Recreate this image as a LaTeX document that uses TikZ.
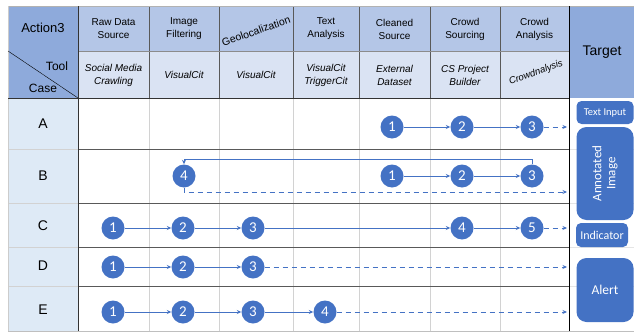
\documentclass[tikz,border=0pt]{standalone}
\usepackage{fontspec}
\setmainfont{Liberation Sans}
\newfontfamily\calib{Carlito}
\usetikzlibrary{arrows.meta, positioning, calc}

\begin{document}
\begin{tikzpicture}[x=1pt,y=-1pt,>={Stealth[length=4.5pt,width=4pt]}]
\useasboundingbox (0,0) rectangle (634,332);

% Colors
\definecolor{headdark}{RGB}{142,170,219}
\definecolor{headmid}{RGB}{180,198,231}
\definecolor{headlight}{RGB}{218,227,243}
\definecolor{casebg}{RGB}{222,234,246}
\definecolor{stepblue}{RGB}{68,114,196}

\tikzset{
  stepnode/.style={circle, fill=stepblue, text=white, minimum size=23pt, inner sep=0pt, font=\calib\fontsize{15}{15}\selectfont},
  flow/.style={stepblue, thick, ->},
  flowdash/.style={stepblue, thick, dashed, dash pattern=on 5pt off 4pt, ->},
  targetbox/.style={rounded corners=5pt, fill=stepblue, text=white, inner sep=0pt, font=\calib\fontsize{10.5}{12}\selectfont},
  acttext/.style={align=center, font=\fontsize{10}{13}\selectfont},
  tooltext/.style={align=center, font=\itshape\fontsize{10}{13}\selectfont},
}

% Backgrounds
\fill[headdark] (8,6) rectangle (78,98);
\fill[headmid] (78,6) rectangle (569,51);
\fill[headlight] (78,51) rectangle (569,98);
\fill[headdark] (569,6) rectangle (634,98);
\fill[casebg] (8,98) rectangle (78,331);

% Grid
\foreach \x in {149,219,293,359,430,500} {
    \draw[gray!35] (\x,98) -- (\x,331);
    \draw[black!65] (\x,6) -- (\x,98);
}
\foreach \y in {149,203,247,286} {
    \draw[black!65] (78,\y) -- (569,\y);
    \draw[gray!35] (8,\y) -- (78,\y);
    \draw[gray!20] (569,\y) -- (634,\y);
}
\draw[black!45] (78,51) -- (569,51);
\draw[gray!60] (8,6) -- (634,6);
\draw[gray!40] (8,6) -- (8,331);
\draw[black!80, thick] (8,98) -- (569,98);
\draw[black!80, thick] (78,6) -- (78,331);
\draw[black, thick] (569,6) -- (569,331);
\draw[gray!50] (8,331) -- (634,331);

% Titles
\node[font=\fontsize{13}{13}\selectfont] (act0) at (43,28) {Action3};
\node[font=\fontsize{14}{14}\selectfont] (target) at (602,52) {Target};
\node[font=\fontsize{12}{12}\selectfont] (tool) at (57,66) {Tool};
\node[font=\fontsize{12}{12}\selectfont] (case) at (43,88) {Case};
\draw[black] (8,51) -- (78,98);

% Actions and tools
\foreach \i/\x/\act/\tl in {1/113.5/{Raw Data\\Source}/{Social Media\\Crawling},
                            2/184/{Image\\Filtering}/{VisualCit},
                            4/326/{Text\\Analysis}/{VisualCit\\TriggerCit},
                            5/394.5/{Cleaned\\Source}/{External\\Dataset},
                            6/465/{Crowd\\Sourcing}/{CS Project\\Builder}} {
    \node[acttext] (act\i) at (\x,29) {\act};
    \node[tooltext] (tool\i) at (\x,75) {\tl};
}
\node[acttext, font=\fontsize{10.5}{13}\selectfont, inner sep=1pt, rotate=19] (act3) at (256,31) {Geolocalization};
\node[tooltext] (tool3) at (256,75) {VisualCit};
\node[acttext] (act7) at (534.5,29) {Crowd\\Analysis};
\node[tooltext, font=\itshape\fontsize{9.5}{12}\selectfont, inner sep=1pt, rotate=20] (tool7) at (536,73) {Crowdnalysis};

% Cases
\foreach \c/\y in {A/124,B/176,C/226,D/266,E/310} {
    \node[font=\fontsize{14}{14}\selectfont] (case\c) at (43,\y) {\c};
}

% Steps
\node[stepnode] (A1) at (392,127) {1};
\node[stepnode] (A2) at (462,127) {2};
\node[stepnode] (A3) at (532,127) {3};
\coordinate (Aend) at (567,127);

\node[stepnode] (B1) at (392,176) {1};
\node[stepnode] (B2) at (462,176) {2};
\node[stepnode] (B3) at (532,176) {3};
\node[stepnode] (B4) at (184,176) {4};
\coordinate (Bend) at (567,192);

\foreach \i/\x in {1/113,2/183,3/253,4/462,5/532} {
    \node[stepnode] (C\i) at (\x,228) {\i};
}
\coordinate (Cend) at (567,228);

\foreach \i/\x in {1/113,2/183,3/253} {
    \node[stepnode] (D\i) at (\x,267) {\i};
}
\coordinate (Dend) at (567,267);

\foreach \i/\x in {1/113,2/183,3/253,4/325} {
    \node[stepnode] (E\i) at (\x,312) {\i};
}
\coordinate (Eend) at (567,312);

% Connections
\draw[flow] (A1) -- (A2);
\draw[flow] (A2) -- (A3);
\draw[flowdash] (A3) -- (Aend);

\draw[flow] (B1) -- (B2);
\draw[flow] (B2) -- (B3);
\draw[flow] (B3.north) -- ++(0,-5) -| (B4.north);
\draw[flowdash] (B4.south) |- (Bend);

\foreach \i/\j in {1/2,2/3,3/4,4/5} {
    \draw[flow] (C\i) -- (C\j);
}
\draw[flowdash] (C5) -- (Cend);

\foreach \i/\j in {1/2,2/3} {
    \draw[flow] (D\i) -- (D\j);
}
\draw[flowdash] (D3) -- (Dend);

\foreach \i/\j in {1/2,2/3,3/4} {
    \draw[flow] (E\i) -- (E\j);
}
\draw[flowdash] (E4) -- (Eend);

% Targets
\node[targetbox, minimum width=57pt, minimum height=23pt] (textin) at (605,112.5) {Text Input};
\node[targetbox, rounded corners=10pt, minimum width=57pt, minimum height=93pt] (annot) at (605,173.5) {};
\node[rotate=90, align=center, text=white, font=\calib\fontsize{13}{14}\selectfont] (annottxt) at (annot.center) {Annotated\\Image};
\node[targetbox, font=\calib\fontsize{12}{12}\selectfont, minimum width=52pt, minimum height=24pt] (indic) at (602,235) {Indicator};
\node[targetbox, rounded corners=10pt, font=\calib\fontsize{13.5}{14}\selectfont, minimum width=57pt, minimum height=64pt] (alert) at (605,290) {Alert};

\end{tikzpicture}
\end{document}
